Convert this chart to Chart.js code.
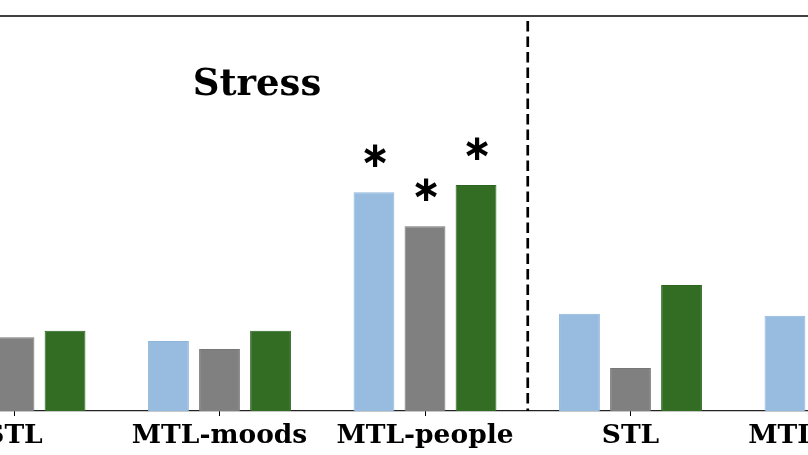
<!DOCTYPE html>
<html>
<head>
<meta charset="utf-8">
<script src="https://cdn.jsdelivr.net/npm/chart.js@4"></script>
<style>
  html, body { margin: 0; padding: 0; background: #fff; overflow: hidden; }
  #wrap { position: absolute; left: -200px; top: 0; width: 1200px; height: 455px; }
</style>
</head>
<body>
<div id="wrap"><canvas id="chart"></canvas></div>
<script>
// Data (bars partly outside the crop are left null)
const categories = ['STL', 'MTL-moods', 'MTL-people', 'STL', 'MTL-moods'];
const seriesBlue  = [null,  0.177, 0.554, 0.246, 0.241];
const seriesGray  = [0.187, 0.157, 0.468, 0.109, null];
const seriesGreen = [0.203, 0.203, 0.572, 0.319, null];
// significance markers per series, per category
const starsBlue  = [false, false, true, false, false];
const starsGray  = [false, false, true, false, false];
const starsGreen = [false, false, true, false, false];

const serif = "'DejaVu Serif', 'Liberation Serif', serif";

// Extra drawing: top spine, panel divider, title text, asterisks
const decorations = {
    id: 'decorations',
    afterDatasetsDraw(chart) {
        const ctx = chart.ctx;
        const area = chart.chartArea;
        const x = chart.scales.x;

        ctx.save();

        // top spine
        ctx.strokeStyle = '#000';
        ctx.lineWidth = 1.3;
        ctx.beginPath();
        ctx.moveTo(area.left, area.top);
        ctx.lineTo(area.right, area.top);
        ctx.stroke();

        // dashed divider between the two panels
        const divX = (x.getPixelForValue(2) + x.getPixelForValue(3)) / 2;
        ctx.setLineDash([10.5, 5]);
        ctx.lineDashOffset = 10.5;
        ctx.lineWidth = 2.7;
        ctx.beginPath();
        ctx.moveTo(divX, area.top);
        ctx.lineTo(divX, area.bottom);
        ctx.stroke();
        ctx.setLineDash([]);

        // panel title
        ctx.fillStyle = '#000';
        ctx.font = 'bold 37px ' + serif;
        ctx.textAlign = 'center';
        ctx.textBaseline = 'alphabetic';
        ctx.fillText('Stress', area.left + 0.3365 * (area.right - area.left), 95);

        // asterisks, centred 36px above each flagged bar
        const stars = [starsBlue, starsGray, starsGreen];
        ctx.font = "bold 36px 'DejaVu Sans', sans-serif";
        const m = ctx.measureText('\u2217');
        const shift = (m.actualBoundingBoxAscent - m.actualBoundingBoxDescent) / 2;
        stars.forEach((flags, di) => {
            const meta = chart.getDatasetMeta(di);
            flags.forEach((on, i) => {
                if (!on) return;
                const bar = meta.data[i];
                ctx.fillText('\u2217', bar.x + 1, bar.y - 36.5 + shift);
            });
        });

        ctx.restore();
    }
};

new Chart(document.getElementById('chart'), {
    type: 'bar',
    data: {
        labels: categories,
        datasets: [
            { label: 'blue',  data: seriesBlue,  backgroundColor: '#97bcdf', borderColor: '#8db5da', borderWidth: 1 },
            { label: 'gray',  data: seriesGray,  backgroundColor: '#808080', borderColor: '#767676', borderWidth: 1 },
            { label: 'green', data: seriesGreen, backgroundColor: '#336d23', borderColor: '#2c6420', borderWidth: 1 }
        ]
    },
    options: {
        responsive: true,
        maintainAspectRatio: false,
        animation: false,
        devicePixelRatio: 1,
        categoryPercentage: 0.745,
        barPercentage: 0.8,
        layout: { padding: { left: 111.25, right: 61.25, top: 16, bottom: 0 } },
        plugins: {
            legend: { display: false },
            tooltip: { enabled: false }
        },
        scales: {
            x: {
                offset: true,
                grid: {
                    offset: false,
                    drawOnChartArea: false,
                    drawTicks: true,
                    tickLength: 5,
                    color: '#000',
                    lineWidth: 1
                },
                border: { display: true, color: '#222', width: 1.3 },
                ticks: {
                    color: '#000',
                    padding: 4,
                    maxRotation: 0,
                    autoSkip: false,
                    font: { family: serif, weight: 'bold', size: 26.5 }
                },
                afterFit(scale) { scale.height = 44; }
            },
            y: {
                display: false,
                min: 0,
                max: 1
            }
        }
    },
    plugins: [decorations]
});
</script>
</body>
</html>
